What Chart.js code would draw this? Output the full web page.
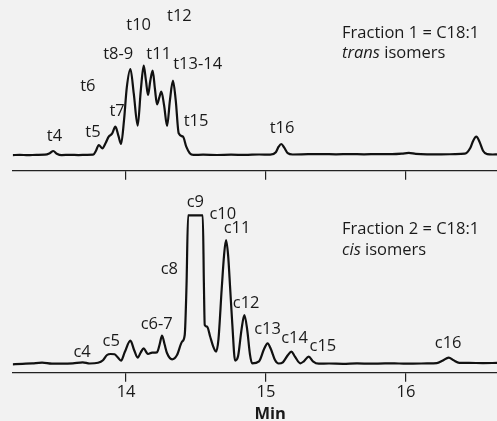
<!DOCTYPE html>
<html>
<head>
<meta charset="utf-8">
<script src="https://cdn.jsdelivr.net/npm/chart.js@4/dist/chart.umd.min.js"></script>
<style>
  html, body { margin: 0; padding: 0; background: #f2f2f2; }
  #wrap { position: relative; width: 497px; height: 421px; overflow: hidden; }
  canvas { position: absolute; left: 0; }
  #cTop { top: 0; }
  #cBot { top: 185px; }
</style>
</head>
<body>
<div id="wrap">
  <canvas id="cTop" width="497" height="185"></canvas>
  <canvas id="cBot" width="497" height="236"></canvas>
</div>
<script>
// Retention time axis (min)
const timeRange = [13.19, 16.65];
const timeTicks = [14, 15, 16];

// Fraction 1: C18:1 trans isomers — detector signal vs retention time
const transTime = [13.19, 13.24, 13.30, 13.36, 13.42, 13.455, 13.48, 13.505, 13.54, 13.60, 13.66, 13.72,
  13.765, 13.785, 13.805, 13.83, 13.855, 13.876, 13.90, 13.924, 13.945, 13.964, 13.985, 14.005, 14.031,
  14.055, 14.083, 14.105, 14.126, 14.142, 14.157, 14.173, 14.190, 14.206, 14.221, 14.237, 14.252, 14.272,
  14.293, 14.313, 14.335, 14.355, 14.376, 14.407, 14.43, 14.455, 14.48, 14.55, 14.65, 14.75, 14.85, 14.95,
  15.03, 15.07, 15.09, 15.109, 15.13, 15.155, 15.19, 15.30, 15.40, 15.50, 15.60, 15.70, 15.80, 15.90,
  15.97, 16.02, 16.07, 16.15, 16.25, 16.35, 16.42, 16.46, 16.48, 16.502, 16.525, 16.55, 16.58, 16.62, 16.65];
const transSignal = [0.6, 0.9, 0.5, 0.9, 1.0, 2.5, 4.7, 2.0, 0.6, 0.9, 0.6, 0.9,
  1.0, 5, 10.7, 7.4, 13, 19, 22, 29, 20, 11.7, 35, 68, 86.7,
  62, 30, 65, 90, 75, 60.7, 75, 85, 67, 51.4, 58, 64, 50,
  29.7, 55, 75, 55, 22.4, 19, 9, 2.5, 0.8, 1.0, 0.7, 1.0, 0.8, 1.2,
  1.0, 3.5, 9, 11.7, 8, 2.5, 1.2, 1.5, 1.6, 1.4, 1.6, 1.4, 1.6, 1.5,
  2, 2.8, 1.8, 1.4, 1.4, 1.5, 2, 8, 15, 19, 14, 5, 1.5, 1.2, 1.3];

// Fraction 2: C18:1 cis isomers (c9 goes off scale and is shown flat-topped)
const cisTime = [13.19, 13.26, 13.33, 13.40, 13.47, 13.55, 13.62, 13.69, 13.74, 13.80, 13.835, 13.864,
  13.89, 13.918, 13.94, 13.964, 13.99, 14.031, 14.058, 14.083, 14.105, 14.126, 14.145, 14.157, 14.186,
  14.221, 14.24, 14.257, 14.275, 14.293, 14.329, 14.364, 14.40, 14.419, 14.432, 14.443, 14.548, 14.556,
  14.562, 14.579, 14.60, 14.622, 14.643, 14.66, 14.683, 14.70, 14.714, 14.729, 14.744, 14.759, 14.779,
  14.80, 14.825, 14.845, 14.865, 14.885, 14.90, 14.95, 14.985, 15.011, 15.035, 15.065, 15.09, 15.12,
  15.155, 15.181, 15.205, 15.245, 15.27, 15.305, 15.335, 15.376, 15.45, 15.55, 15.65, 15.75, 15.85,
  15.95, 16.05, 16.15, 16.22, 16.26, 16.305, 16.34, 16.38, 16.45, 16.55, 16.65];
const cisSignal = [0, 0.5, 1.0, 1.6, 0.6, 0.6, 1.0, 2.0, 0.8, 1.5, 4, 9.3,
  10.3, 10, 7, 3.7, 12, 23.7, 14, 6.7, 12, 16, 12, 10.3, 11.7,
  12, 20, 28.7, 20, 11, 5, 9.3, 22.7, 29.3, 80, 149, 149, 80,
  39.3, 37.7, 28, 18, 12.7, 25, 75, 109, 124.3, 109, 75, 40, 3.7,
  8, 35, 49.3, 35, 10, 1.0, 3, 15, 21, 15, 4, 0.8, 2,
  9, 12.7, 8, 1.0, 3, 7.7, 3, 0.6, 0.8, 0.5, 0.9, 0.6, 0.9,
  0.8, 0.7, 0.9, 1.2, 3.5, 6.7, 4, 1.5, 1.4, 1.2, 1.4];

// Peak names and where their labels sit (time, signal at text baseline)
const transPeakNames = ['t4', 't5', 't6', 't7', 't8-9', 't10', 't11', 't12', 't13-14', 't15', 't16'];
const transPeakLabelTime = [13.488, 13.763, 13.727, 13.936, 13.944, 14.09, 14.233, 14.381, 14.511, 14.50, 15.114];
const transPeakLabelSignal = [14.8, 19.1, 64.8, 39.8, 97.1, 125.8, 96.5, 134.8, 87.1, 29.8, 22.5];

const cisPeakNames = ['c4', 'c5', 'c6-7', 'c8', 'c9', 'c10', 'c11', 'c12', 'c13', 'c14', 'c15', 'c16'];
const cisPeakLabelTime = [13.686, 13.894, 14.219, 14.309, 14.495, 14.691, 14.793, 14.858, 15.011, 15.204, 15.406, 16.301];
const cisPeakLabelSignal = [7.7, 18.4, 35.1, 90.1, 157.4, 145.1, 131.7, 56.7, 30.1, 21.7, 13.1, 16.7];

// Panel captions: [plain lead, italic word, plain tail]
const transCaption = [['Fraction 1 = C18:1', '', ''], ['', 'trans', ' isomers']];
const cisCaption = [['Fraction 2 = C18:1', '', ''], ['', 'cis', ' isomers']];

const FONT = '"Open Sans", "Noto Sans", sans-serif';
const FONT_SIZE = 16.5;
const INK = '#1a1a1a';

function toPoints(xs, ys) { return xs.map((x, i) => ({ x: x, y: ys[i] })); }

// Draws peak names and the panel caption in data coordinates
const annotate = {
  id: 'annotate',
  afterDatasetsDraw(chart, args, opts) {
    const ctx = chart.ctx, xs = chart.scales.x, ys = chart.scales.y;
    ctx.save();
    ctx.fillStyle = INK;
    ctx.textBaseline = 'alphabetic';
    ctx.textAlign = 'center';
    ctx.font = FONT_SIZE + 'px ' + FONT;
    opts.names.forEach((n, i) => {
      ctx.fillText(n, xs.getPixelForValue(opts.times[i]), ys.getPixelForValue(opts.signals[i]));
    });
    ctx.textAlign = 'left';
    opts.caption.forEach((line, i) => {
      let px = xs.getPixelForValue(opts.captionTime);
      const py = ys.getPixelForValue(opts.captionSignal[i]);
      const parts = [[line[0], ''], [line[1], 'italic '], [line[2], '']];
      parts.forEach(([t, style]) => {
        if (!t) return;
        ctx.font = style + FONT_SIZE + 'px ' + FONT;
        ctx.fillText(t, px, py);
        px += ctx.measureText(t).width;
      });
    });
    if (opts.axisTitle) {
      ctx.textAlign = 'center';
      ctx.font = 'bold ' + FONT_SIZE + 'px ' + FONT;
      ctx.fillText(opts.axisTitle, xs.getPixelForValue(opts.axisTitleTime), chart.height - 2);
    }
    ctx.restore();
  }
};

function makePanel(canvasId, times, signals, yMin, yMax, axisHeight, showLabels, ann) {
  return new Chart(document.getElementById(canvasId), {
    type: 'line',
    data: {
      datasets: [{
        data: toPoints(times, signals),
        borderColor: '#111',
        borderWidth: 2.2,
        pointRadius: 0,
        fill: false,
        cubicInterpolationMode: 'monotone'
      }]
    },
    options: {
      responsive: false,
      animation: false,
      devicePixelRatio: 1,
      parsing: false,
      layout: { padding: { left: 12.7, right: 0, top: 0, bottom: 0 } },
      plugins: { legend: { display: false }, tooltip: { enabled: false }, annotate: ann },
      scales: {
        x: {
          type: 'linear',
          min: timeRange[0],
          max: timeRange[1],
          afterBuildTicks: s => { s.ticks = timeTicks.map(v => ({ value: v })); },
          afterFit: s => { s.height = axisHeight; },
          grid: { drawOnChartArea: false, drawTicks: true, tickLength: 9, color: '#222', lineWidth: 1.2 },
          border: { display: true, color: '#222', width: 1.3 },
          ticks: { display: showLabels, color: INK, font: { family: FONT, size: FONT_SIZE }, padding: 1, maxRotation: 0 }
        },
        y: { display: false, min: yMin, max: yMax }
      }
    },
    plugins: [annotate]
  });
}

makePanel('cTop', transTime, transSignal, -15, 155.7, 14.3, false, {
  names: transPeakNames, times: transPeakLabelTime, signals: transPeakLabelSignal,
  caption: transCaption, captionTime: 15.543, captionSignal: [118, 98]
});

makePanel('cBot', cisTime, cisSignal, -8.4, 179.3, 48.3, true, {
  names: cisPeakNames, times: cisPeakLabelTime, signals: cisPeakLabelSignal,
  caption: cisCaption, captionTime: 15.543, captionSignal: [130, 109.8],
  axisTitle: 'Min', axisTitleTime: 15.03
});
</script>
</body>
</html>
